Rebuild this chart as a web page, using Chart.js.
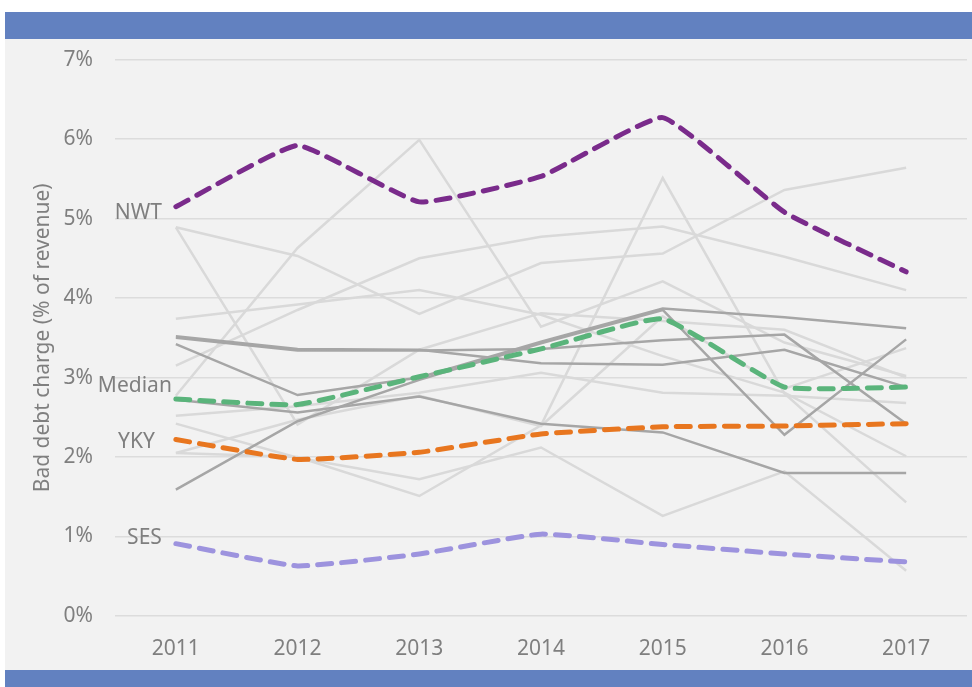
<!DOCTYPE html>
<html>
<head>
<meta charset="utf-8">
<script src="https://cdn.jsdelivr.net/npm/chart.js@4"></script>
<style>
    html, body { margin: 0; padding: 0; background: #ffffff; }
    body { width: 972px; height: 687px; position: relative; overflow: hidden; }
    .band { position: absolute; left: 5px; width: 967px; background: #6281c0; }
    #top { top: 12px; height: 27px; }
    #bottom { top: 670px; height: 17px; }
    #panel { position: absolute; left: 5px; top: 39px; width: 967px; height: 631px; background: #f2f2f2; }
    #chart { position: absolute; left: 5px; top: 25px; display: block; }
</style>
</head>
<body>
<div class="band" id="top"></div>
<div id="panel"></div>
<div class="band" id="bottom"></div>
<canvas id="chart" width="967" height="645"></canvas>
<script>
// ─── DATA ──────────────────────────────────────────────────
const years = ["2011", "2012", "2013", "2014", "2015", "2016", "2017"];
const yTicks = [0, 1, 2, 3, 4, 5, 6, 7];

// highlighted companies (% of revenue)
const nwt    = [5.15, 5.92, 5.21, 5.53, 6.27, 5.08, 4.33];
const median = [2.73, 2.66, 3.01, 3.36, 3.74, 2.88, 2.88];
const yky    = [2.22, 1.97, 2.06, 2.29, 2.38, 2.39, 2.42];
const ses    = [0.91, 0.63, 0.78, 1.03, 0.90, 0.78, 0.68];

// other companies, darker grey
const dark1 = [3.52, 3.36, 3.35, 3.18, 3.16, 3.35, 2.88];
const dark2 = [3.50, 3.34, 3.34, 3.36, 3.47, 3.54, 2.42];
const dark3 = [3.42, 2.78, 3.00, 3.45, 3.87, 3.76, 3.62];
const dark4 = [1.59, 2.45, 2.97, 3.43, 3.85, 2.28, 3.48];
const dark5 = [2.72, 2.56, 2.76, 2.42, 2.31, 1.80, 1.80];

// other companies, light grey
const light1 = [4.89, 4.53, 3.80, 4.44, 4.56, 5.36, 5.64];
const light2 = [4.89, 2.41, 3.35, 3.81, 3.71, 3.60, 3.00];
const light3 = [2.77, 4.63, 5.99, 3.64, 4.21, 3.44, 3.02];
const light4 = [3.74, 3.92, 4.10, 3.79, 3.27, 2.81, 2.01];
const light5 = [3.15, 3.85, 4.50, 4.77, 4.90, 4.52, 4.10];
const light6 = [2.52, 2.64, 2.81, 3.06, 2.81, 2.77, 2.68];
const light7 = [2.42, 1.99, 1.72, 2.12, 1.26, 1.82, 0.57];
const light8 = [2.05, 2.47, 2.77, 2.39, 3.77, 2.86, 3.37];
const light9 = [2.05, 2.00, 1.51, 2.40, 5.51, 2.80, 1.43];

const FONT = "'Noto Sans', 'Open Sans', sans-serif";
const TEXT = "#7f7f7f";

// ─── DATASETS ──────────────────────────────────────────────
function highlight(label, data, color) {
    return {
        label, data,
        borderColor: color,
        borderWidth: 5,
        borderDash: [14, 10],
        borderCapStyle: "round",
        tension: 0.12,
        pointRadius: 0,
        order: 0,
    };
}

function plain(data, color, order) {
    return {
        label: "",
        data,
        borderColor: color,
        borderWidth: 2.5,
        tension: 0,
        pointRadius: 0,
        order,
    };
}

const lightSeries = [light1, light2, light3, light4, light5, light6, light7, light8, light9];
const darkSeries  = [dark1, dark2, dark3, dark4, dark5];

const datasets = [
    highlight("NWT", nwt, "#7a2b8b"),
    highlight("Median", median, "#5ab47b"),
    highlight("YKY", yky, "#e8761f"),
    highlight("SES", ses, "#9d93de"),
    ...darkSeries.map(d => plain(d, "#a6a6a6", 1)),
    ...lightSeries.map(d => plain(d, "#d9d9d9", 2)),
];

// pixel nudges for the hand-placed series names
const nameNudge = {
    NWT:    { dx: -14, dy: 6 },
    Median: { dx: -4,  dy: -13 },
    YKY:    { dx: -21, dy: 2 },
    SES:    { dx: -14, dy: -6 },
};

const seriesNames = {
    id: "seriesNames",
    afterDatasetsDraw(chart) {
        const { ctx, scales } = chart;
        ctx.save();
        ctx.font = `21px ${FONT}`;
        ctx.fillStyle = TEXT;
        ctx.textAlign = "right";
        ctx.textBaseline = "middle";
        chart.data.datasets.forEach(ds => {
            const n = nameNudge[ds.label];
            if (!n) return;
            const x = scales.x.getPixelForValue(0) + n.dx;
            const y = scales.y.getPixelForValue(ds.data[0]) + n.dy;
            ctx.fillText(ds.label, x, y);
        });
        ctx.restore();
    },
};

new Chart(document.getElementById("chart"), {
    type: "line",
    data: { labels: years, datasets },
    plugins: [seriesNames],
    options: {
        responsive: false,
        animation: false,
        layout: { padding: { top: 0, right: 5, left: 0, bottom: 0 } },
        plugins: {
            legend: { display: false },
            tooltip: { enabled: false },
        },
        scales: {
            x: {
                offset: true,
                grid: { display: false },
                border: { display: false },
                ticks: { color: TEXT, font: { family: FONT, size: 21 }, padding: 12 },
                afterFit(scale) { scale.height = 54; },
            },
            y: {
                min: yTicks[0],
                max: yTicks[yTicks.length - 1],
                afterBuildTicks(scale) { scale.ticks = yTicks.map(v => ({ value: v })); },
                grid: { color: "#dcdcdc", lineWidth: 1.5, drawTicks: false },
                border: { display: false },
                ticks: {
                    color: TEXT,
                    font: { family: FONT, size: 21 },
                    padding: 22,
                    callback: v => v + "%",
                },
                title: {
                    display: true,
                    text: "Bad debt charge (% of revenue)",
                    color: TEXT,
                    font: { family: FONT, size: 21 },
                    padding: { top: 25, bottom: 0 },
                },
                afterFit(scale) { scale.width = 110; },
            },
        },
    },
});
</script>
</body>
</html>
